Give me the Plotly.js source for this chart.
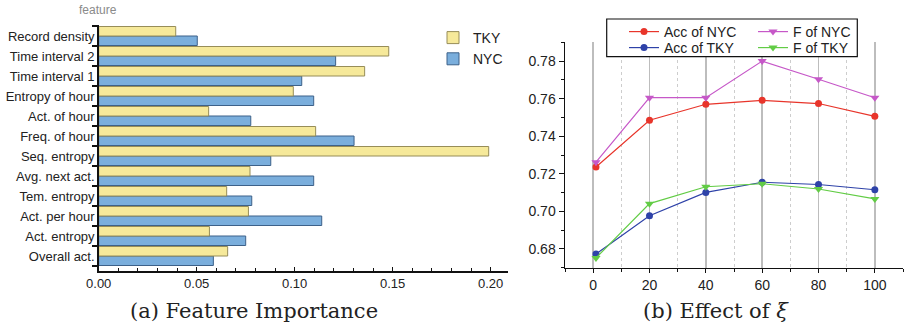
<!DOCTYPE html>
<html><head><meta charset="utf-8">
<script src="https://cdn.plot.ly/plotly-3.0.1.min.js"></script>
<style>body{margin:0;padding:0;background:#fff}#chart{width:905px;height:330px}</style>
</head><body><div id="chart"></div>
<script>
// ---- Feature importance (bottom to top) ----
const features = ["Overall act.","Act. entropy","Act. per hour","Tem. entropy","Avg. next act.","Seq. entropy","Freq. of hour","Act. of hour","Entropy of hour","Time interval 1","Time interval 2","Record density"];
const tkyImportance = [0.0658,0.0565,0.0764,0.0653,0.0772,0.1990,0.1107,0.0561,0.0993,0.1357,0.1480,0.0393];
const nycImportance = [0.0585,0.0750,0.1138,0.0781,0.1097,0.0878,0.1303,0.0776,0.1097,0.1036,0.1209,0.0503];

// ---- Effect of xi ----
const xiValues = [1,20,40,60,80,100];
const accNYC = [0.7236,0.7485,0.7570,0.7591,0.7574,0.7506];
const fNYC   = [0.7262,0.7605,0.7605,0.7800,0.7703,0.7605];
const accTKY = [0.6773,0.6977,0.7101,0.7155,0.7143,0.7115];
const fTKY   = [0.6752,0.7041,0.7131,0.7147,0.7119,0.7066];

const W = 905, H = 330;
const fx = p => p / W, fy = p => 1 - p / H;
const sans = "Liberation Sans, Arial, sans-serif";
const serif = "DejaVu Serif, Liberation Serif, serif";

const traces = [
  {type:'bar', orientation:'h', name:'NYC', y:features, x:nycImportance, xaxis:'x', yaxis:'y',
   marker:{color:'#7AAEDC', line:{color:'#3D6189', width:1}}, legend:'legend'},
  {type:'bar', orientation:'h', name:'TKY', y:features, x:tkyImportance, xaxis:'x', yaxis:'y',
   marker:{color:'#F6E99A', line:{color:'#978D58', width:1}}, legend:'legend'},
  {type:'scatter', mode:'lines+markers', name:'Acc of NYC', x:xiValues, y:accNYC, xaxis:'x2', yaxis:'y2',
   line:{color:'#E8352B', width:1.2}, marker:{symbol:'circle', size:7, color:'#E8352B'}, legend:'legend2'},
  {type:'scatter', mode:'lines+markers', name:'F of NYC', x:xiValues, y:fNYC, xaxis:'x2', yaxis:'y2',
   line:{color:'#C658C8', width:1.2}, marker:{symbol:'triangle-down', size:8, color:'#C658C8'}, legend:'legend2'},
  {type:'scatter', mode:'lines+markers', name:'Acc of TKY', x:xiValues, y:accTKY, xaxis:'x2', yaxis:'y2',
   line:{color:'#2E42A8', width:1.2}, marker:{symbol:'circle', size:7, color:'#2E42A8'}, legend:'legend3'},
  {type:'scatter', mode:'lines+markers', name:'F of TKY', x:xiValues, y:fTKY, xaxis:'x2', yaxis:'y2',
   line:{color:'#62CC45', width:1.2}, marker:{symbol:'triangle-down', size:8, color:'#62CC45'}, legend:'legend3'}
];

const legRow = y => ({x:fx(624), y:fy(y), xanchor:'left', yanchor:'middle', orientation:'h',
  bgcolor:'rgba(0,0,0,0)', borderwidth:0, font:{size:14, color:'#222'}, entrywidth:84, itemwidth:30});

const layout = {
  width:W, height:H, margin:{l:0,r:0,t:0,b:0,autoexpand:false},
  paper_bgcolor:'#fff', plot_bgcolor:'rgba(0,0,0,0)',
  font:{family:sans, size:13, color:'#222'},
  barmode:'group', bargap:0.05, bargroupgap:0,
  xaxis:{domain:[fx(98.7), fx(508.3)], range:[0,0.209], dtick:0.05, tick0:0, tickformat:'.2f',
    showgrid:false, zeroline:false, showline:true, linecolor:'#111', linewidth:2,
    ticks:'inside', ticklen:4, tickcolor:'#111', tickfont:{size:13, color:'#222'},
    minor:{dtick:0.01, ticks:'inside', ticklen:3, tickcolor:'#111', showgrid:false}, anchor:'y', fixedrange:true},
  yaxis:{domain:[fy(270.7), fy(25)], type:'category', range:[-0.735, 11.55], tickson:'boundaries',
    showgrid:false, zeroline:false, showline:true, linecolor:'#111', linewidth:1.5,
    ticks:'outside', ticklen:5, tickwidth:2.5, tickcolor:'#111', tickfont:{size:13, color:'#222'}, anchor:'x', fixedrange:true},
  xaxis2:{domain:[fx(565), fx(903)], range:[-10,110], dtick:20, tick0:0,
    showgrid:true, gridcolor:'#bdbdbd', gridwidth:1.5, zeroline:false, showline:true, linecolor:'#111', linewidth:1.5,
    ticks:'outside', ticklen:4, tickcolor:'#111', tickfont:{size:14, color:'#222'},
    minor:{dtick:10, tick0:0, showgrid:true, gridcolor:'#cdcdcd', griddash:'dot', gridwidth:1, ticks:'outside', ticklen:3, tickcolor:'#111'},
    anchor:'y2', fixedrange:true},
  yaxis2:{domain:[fy(267.7), fy(42.3)], range:[0.670,0.790], dtick:0.02, tick0:0.68, tickformat:'.2f',
    showgrid:false, zeroline:false, showline:true, linecolor:'#111', linewidth:1.5,
    ticks:'outside', ticklen:5, tickcolor:'#111', tickfont:{size:14, color:'#222'},
    minor:{dtick:0.01, ticks:'outside', ticklen:3, tickcolor:'#111', showgrid:false}, anchor:'x2', fixedrange:true},
  legend:{x:fx(433), y:fy(22), xanchor:'left', yanchor:'top', traceorder:'reversed', bgcolor:'rgba(0,0,0,0)',
    font:{size:14, color:'#222'}, itemwidth:30, tracegroupgap:0},
  legend2:legRow(32),
  legend3:legRow(48),
  shapes:[
    {type:'rect', xref:'paper', yref:'paper', x0:fx(606.7), x1:fx(857.3), y0:fy(56.7), y1:fy(19),
     fillcolor:'#fff', line:{color:'#111', width:1.2}, layer:'above'}
  ],
  annotations:[
    {xref:'paper', yref:'paper', x:fx(98), y:fy(10), text:'feature', showarrow:false, xanchor:'center', yanchor:'middle',
     font:{family:sans, size:12, color:'#8a8a8a'}},
    {xref:'paper', yref:'paper', x:fx(254), y:fy(311), text:'(a) Feature Importance', showarrow:false, xanchor:'center', yanchor:'middle',
     font:{family:serif, size:21, color:'#222'}},
    {xref:'paper', yref:'paper', x:fx(716), y:fy(311), text:'(b) Effect of <i>ξ</i>', showarrow:false, xanchor:'center', yanchor:'middle',
     font:{family:serif, size:21, color:'#222'}}
  ],
  showlegend:true
};

Plotly.newPlot('chart', traces, layout, {displayModeBar:false, staticPlot:true});
</script></body></html>
